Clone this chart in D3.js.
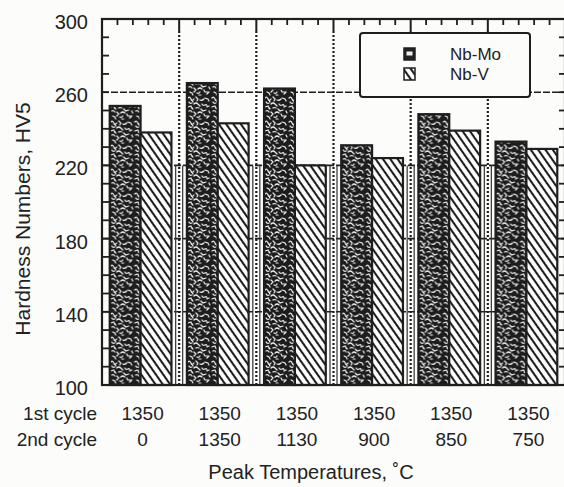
<!DOCTYPE html>
<html><head><meta charset="utf-8">
<script src="https://cdn.jsdelivr.net/npm/d3@7"></script>
<style>body{margin:0;background:#fff}svg{display:block}text{font-family:"Liberation Sans",Arial,sans-serif;fill:#222}</style>
</head><body>
<svg id="c" width="564" height="487"></svg>
<script>
// ---- data ----
const firstCycle = [1350, 1350, 1350, 1350, 1350, 1350];
const secondCycle = [0, 1350, 1130, 900, 850, 750];
const categories = firstCycle.map((d, i) => d + "/" + secondCycle[i]);
const seriesNames = ["Nb-Mo", "Nb-V"];
const nbMo = [252.5, 265, 262, 231, 248, 233];
const nbV = [238, 243, 220, 224, 239, 229];
const yTickLabels = [100, 140, 180, 220, 260, 300];
const gridValues = [140, 180, 220, 260];
const rowLabels = ["1st cycle", "2nd cycle"];
const xTitle = "Peak Temperatures, \u02DAC";
const yTitle = "Hardness Numbers, HV5";

const svg = d3.select("#c");
const ink = "#1e1e1e";

// ---- scales ----
const L = 102, R = 565, T = 19, B = 385;
const x0 = d3.scaleBand().domain(categories).range([L, R]).paddingInner(0.2).paddingOuter(0.1);
const x1 = d3.scaleBand().domain(seriesNames).range([0, x0.bandwidth()]);
const y = d3.scaleLinear().domain([100, 300]).range([B, T]);
const step = x0.step();
const boundary = c => x0(c) - step * 0.1;

// ---- patterns ----
const defs = svg.append("defs");
const pm = defs.append("pattern").attr("id", "mo").attr("patternUnits", "userSpaceOnUse")
  .attr("width", 24).attr("height", 24);
pm.append("rect").attr("width", 24).attr("height", 24).attr("fill", "#1d1d1d");
["M1,2 q2,-2 3,1 t3,0", "M9,1 l2,2 l-1,2", "M2,6 q1,2 3,1", "M7,8 q2,-2 4,0 t2,2",
 "M1,11 l3,-1 l1,2", "M9,12 q1,-1 3,0", "M5,4 l1,2", "M13,4 q2,1 4,-1",
 "M18,2 l3,1 l1,2", "M15,8 q1,2 3,1 t2,1", "M20,11 l2,-1", "M14,13 l2,2 l3,-1",
 "M2,15 q2,-1 3,1", "M7,16 l2,2 l-2,2", "M11,17 q2,-2 4,0", "M17,18 l1,2 l3,0",
 "M3,20 l2,1 l1,2", "M10,21 q2,1 3,-1", "M20,22 l2,-2", "M22,15 l1,2",
 "M5,12 l1,1", "M12,23 l2,0"]
  .forEach(p => pm.append("path").attr("d", p).attr("fill", "none")
    .attr("stroke", "#f0f0f0").attr("stroke-width", 1.2).attr("stroke-linecap", "round"));

const pv = defs.append("pattern").attr("id", "nbv").attr("patternUnits", "userSpaceOnUse")
  .attr("width", 6).attr("height", 10).attr("patternTransform", "rotate(-35)");
pv.append("rect").attr("width", 6).attr("height", 10).attr("fill", "#fff");
pv.append("line").attr("x1", 3).attr("x2", 3).attr("y1", -1).attr("y2", 11)
  .attr("stroke", ink).attr("stroke-width", 2.1);

// background
svg.append("rect").attr("width", 564).attr("height", 487).attr("fill", "#fcfcfb");

// ---- gridlines (behind bars) ----
svg.append("g").selectAll("line").data(gridValues).join("line")
  .attr("x1", L).attr("x2", R).attr("y1", d => y(d)).attr("y2", d => y(d))
  .attr("stroke", ink).attr("stroke-width", 1.6).attr("stroke-dasharray", "7,2");

// ---- group dividers ----
const divs = categories.slice(1);
const gd = svg.append("g");
gd.selectAll("line.dot").data(divs).join("line").attr("class", "dot")
  .attr("x1", d => boundary(d)).attr("x2", d => boundary(d))
  .attr("y1", T + 12).attr("y2", B)
  .attr("stroke", ink).attr("stroke-width", 2.2).attr("stroke-dasharray", "2,2");
[-3.5, 3.5].forEach(off => {
  gd.selectAll("line.side" + (off > 0 ? "r" : "l")).data(divs).join("line")
    .attr("x1", d => boundary(d) + off).attr("x2", d => boundary(d) + off)
    .attr("y1", y(220)).attr("y2", B)
    .attr("stroke", "#333").attr("stroke-width", 1.2);
});

// ---- bars ----
const rows = categories.map((c, i) => ({ c, vals: [{ s: "Nb-Mo", v: nbMo[i] }, { s: "Nb-V", v: nbV[i] }] }));
const g = svg.append("g").selectAll("g").data(rows).join("g")
  .attr("transform", d => `translate(${x0(d.c)},0)`);
g.selectAll("rect").data(d => d.vals).join("rect")
  .attr("x", d => x1(d.s)).attr("width", x1.bandwidth())
  .attr("y", d => y(d.v)).attr("height", d => y(100) - y(d.v))
  .attr("fill", d => d.s === "Nb-Mo" ? "url(#mo)" : "url(#nbv)")
  .attr("stroke", ink).attr("stroke-width", 2.2);

// ---- frame ----
svg.append("rect").attr("x", L).attr("y", T).attr("width", R - L).attr("height", B - T)
  .attr("fill", "none").attr("stroke", ink).attr("stroke-width", 2.2);

// left & right minor ticks (every 10)
const minorY = y.ticks(20).filter(v => v > 100 && v < 300);
svg.append("g").selectAll("line").data(minorY).join("line")
  .attr("x1", L).attr("x2", L + 7).attr("y1", d => y(d)).attr("y2", d => y(d))
  .attr("stroke", ink).attr("stroke-width", 1.8);
svg.append("g").selectAll("line").data(minorY).join("line")
  .attr("x1", R - 6).attr("x2", R).attr("y1", d => y(d)).attr("y2", d => y(d))
  .attr("stroke", ink).attr("stroke-width", 1.8);

// top ticks: major at dividers, 4 minor between
const topMinor = [];
categories.forEach(c => { for (let k = 1; k < 5; k++) topMinor.push(boundary(c) + k * step / 5); });
svg.append("g").selectAll("line").data(topMinor).join("line")
  .attr("x1", d => d).attr("x2", d => d).attr("y1", T).attr("y2", T + 6)
  .attr("stroke", ink).attr("stroke-width", 1.8);
svg.append("g").selectAll("line").data(divs).join("line")
  .attr("x1", d => boundary(d)).attr("x2", d => boundary(d)).attr("y1", T).attr("y2", T + 12)
  .attr("stroke", ink).attr("stroke-width", 2);

// ---- y tick labels ----
svg.append("g").selectAll("text").data(yTickLabels).join("text")
  .attr("x", 88).attr("y", d => y(d) + 10).attr("text-anchor", "end")
  .attr("font-size", 20).text(d => d);

// y title
svg.append("text").attr("transform", "translate(30,219) rotate(-90)")
  .attr("text-anchor", "middle").attr("font-size", 21).text(yTitle);

// ---- x row labels ----
const rowY = [420, 446];
[firstCycle, secondCycle].forEach((arr, r) => {
  svg.append("text").attr("x", 97).attr("y", rowY[r]).attr("text-anchor", "end")
    .attr("font-size", 19).text(rowLabels[r]);
  svg.append("g").selectAll("text").data(categories).join("text")
    .attr("x", c => x0(c) + x0.bandwidth() / 2 + 2).attr("y", rowY[r])
    .attr("text-anchor", "middle").attr("font-size", 19)
    .text((c, i) => arr[i]);
});
svg.append("text").attr("x", 311).attr("y", 479).attr("text-anchor", "middle")
  .attr("font-size", 20).text(xTitle);

// ---- legend ----
const lg = svg.append("g");
lg.append("rect").attr("x", 360).attr("y", 33).attr("width", 170).attr("height", 64)
  .attr("rx", 3).attr("fill", "#fcfcfb").attr("stroke", ink).attr("stroke-width", 2);
const legY = [48, 68];
seriesNames.forEach((s, i) => {
  if (s === "Nb-Mo") {
    lg.append("rect").attr("x", 404).attr("y", legY[i]).attr("width", 11).attr("height", 12)
      .attr("fill", "#232323").attr("stroke", ink).attr("stroke-width", 1.5);
    lg.append("rect").attr("x", 406.5).attr("y", legY[i] + 3.5).attr("width", 6).attr("height", 4)
      .attr("fill", "#eee");
  } else {
    lg.append("rect").attr("x", 404).attr("y", legY[i]).attr("width", 11).attr("height", 12)
      .attr("fill", "url(#nbv)").attr("stroke", ink).attr("stroke-width", 1.5);
  }
  lg.append("text").attr("x", 450).attr("y", legY[i] + 12).attr("font-size", 17).text(s);
});
</script>
</body></html>
